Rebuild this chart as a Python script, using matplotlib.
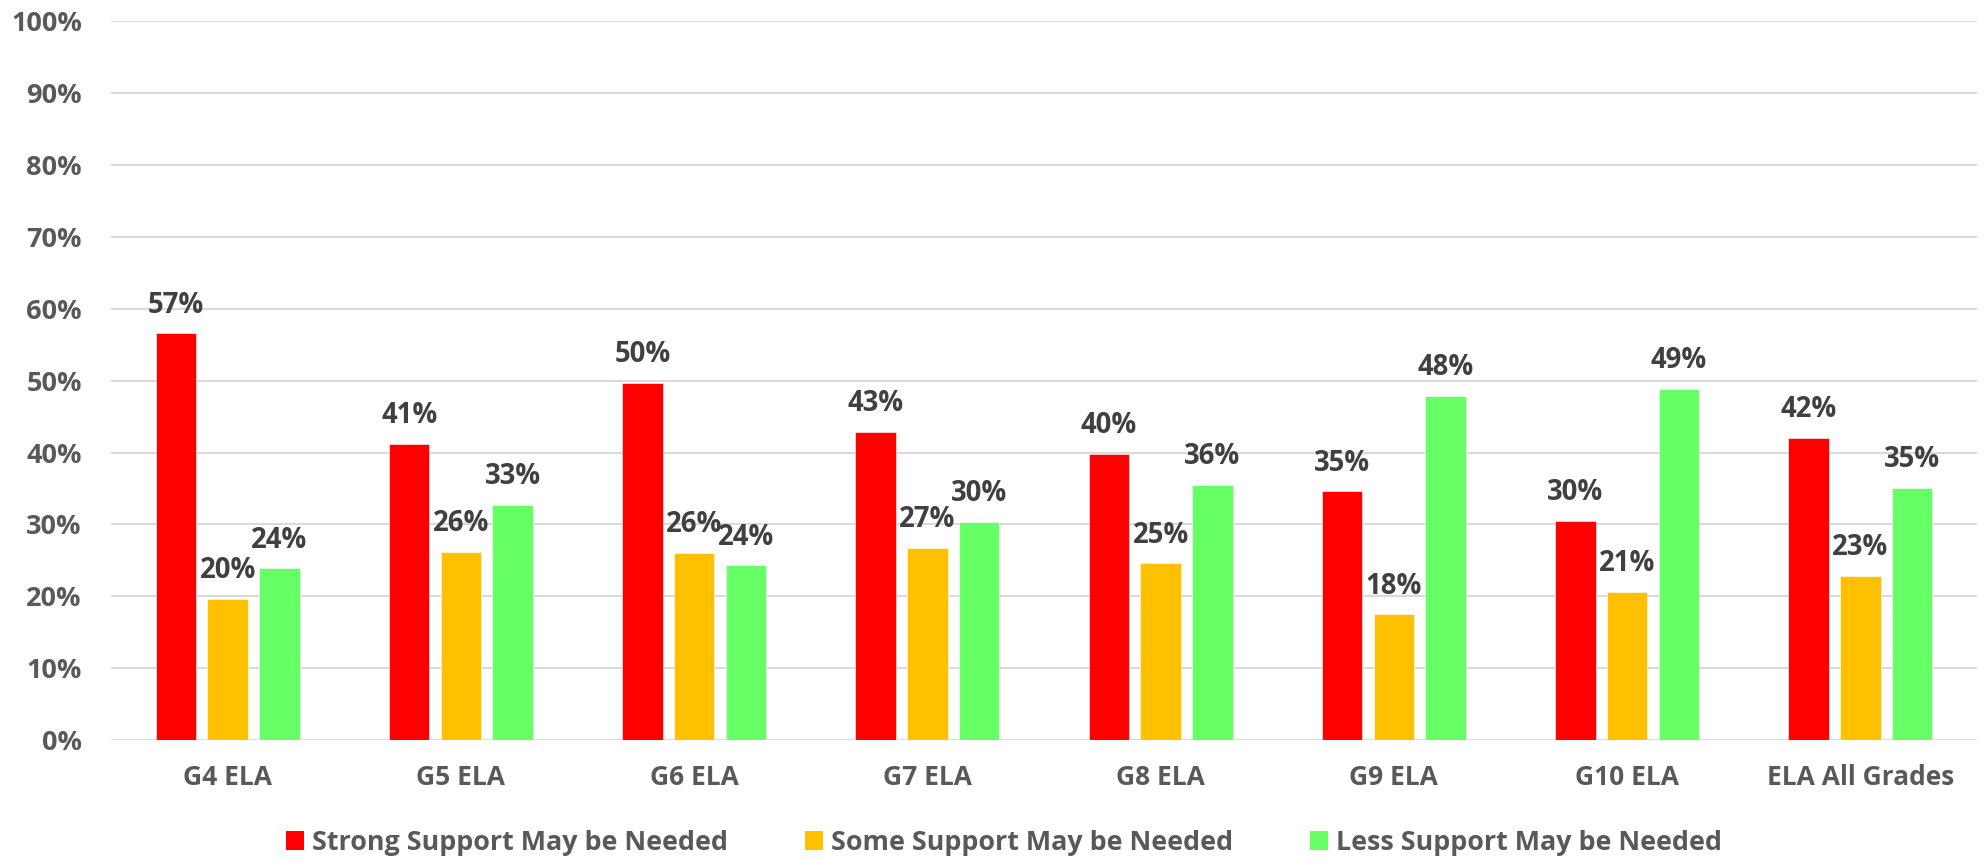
import matplotlib
matplotlib.use("Agg")
import matplotlib.pyplot as plt
from matplotlib.patches import Patch
import numpy as np

categories = ["G4 ELA", "G5 ELA", "G6 ELA", "G7 ELA", "G8 ELA", "G9 ELA", "G10 ELA", "ELA All Grades"]
strong = [0.566, 0.412, 0.497, 0.429, 0.398, 0.346, 0.305, 0.420]
some = [0.196, 0.262, 0.260, 0.267, 0.246, 0.175, 0.206, 0.228]
less = [0.239, 0.327, 0.243, 0.304, 0.355, 0.479, 0.489, 0.351]
series_names = ["Strong Support May be Needed", "Some Support May be Needed", "Less Support May be Needed"]
colors = ["#FF0000", "#FFC000", "#66FF66"]
yticks = [0, 0.1, 0.2, 0.3, 0.4, 0.5, 0.6, 0.7, 0.8, 0.9, 1.0]

plt.rcParams['font.family'] = ['Open Sans', 'DejaVu Sans']
plt.rcParams['font.weight'] = 'bold'

W, H = 1986, 861
fig = plt.figure(figsize=(W / 100, H / 100), dpi=100)
ax = fig.add_axes([111 / W, 1 - 740 / H, (1977 - 111) / W, (740 - 21.3) / H])

x = np.arange(len(categories))
bw = 0.174
step = 0.2217
label_color = "#404040"
tick_color = "#595959"

for i, (vals, c) in enumerate(zip([strong, some, less], colors)):
    pos = x + (i - 1) * step
    ax.bar(pos, vals, width=bw, color=c, zorder=3, edgecolor="white", linewidth=0.4)
    for px, v in zip(pos, vals):
        ax.annotate(f"{v * 100:.0f}%", xy=(px, v), xytext=(0, 14.9),
                    textcoords="offset points", ha="center", va="baseline",
                    fontsize=19.8, fontweight="bold", color=label_color, zorder=4)

ax.set_xlim(-0.5, len(categories) - 0.5)
ax.set_ylim(0, 1)
ax.set_yticks(yticks)
ax.set_yticklabels([f"{int(round(t * 100))}%" for t in yticks])
ax.set_xticks(x)
ax.set_xticklabels(categories)
ax.tick_params(axis="y", length=0, pad=21, labelsize=19.5, labelcolor=tick_color)
ax.tick_params(axis="x", length=0, pad=17, labelsize=19, labelcolor=tick_color)
for lab in ax.get_xticklabels() + ax.get_yticklabels():
    lab.set_fontweight("bold")

ax.grid(axis="y", color="#D9D9D9", linewidth=1.4, zorder=0)
ax.grid(axis="x", visible=False)
for s in ["top", "right", "left", "bottom"]:
    ax.spines[s].set_visible(False)

LF = 19.4
em = LF * 100 / 72.0
handles = [Patch(facecolor=c, edgecolor="none") for c in colors]
leg = fig.legend(handles, series_names, loc="center", bbox_to_anchor=(1004 / W, 1 - 843 / H),
                 ncol=3, frameon=False, fontsize=LF, handlelength=18 / em, handleheight=18 / em,
                 handletextpad=7.7 / em, columnspacing=77 / em, borderpad=0)
for t in leg.get_texts():
    t.set_color(tick_color)
    t.set_fontweight("bold")

fig.savefig("out.png", dpi=100)
